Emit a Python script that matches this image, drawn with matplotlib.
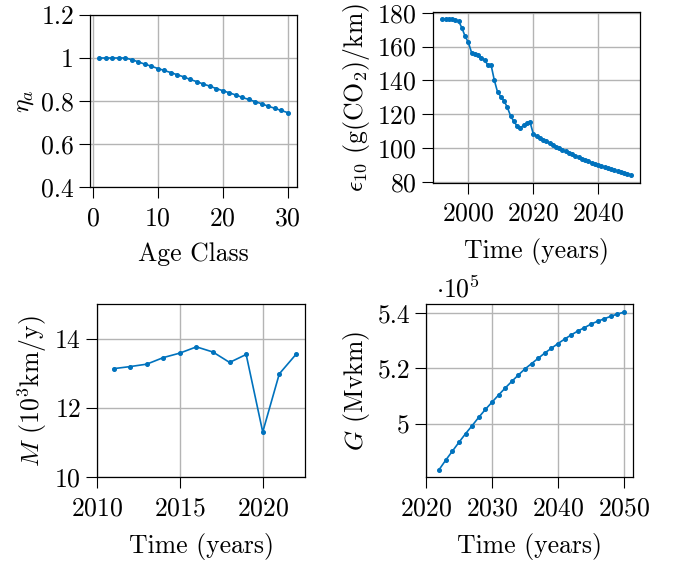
# efficiency, emission factor, mileage and activity panels
import numpy as np
import matplotlib
matplotlib.use("Agg")
from matplotlib import pyplot as plt
from matplotlib.ticker import FuncFormatter

plt.rcParams['font.family'] = 'serif'
plt.rcParams['font.serif'] = ['cmr10']
plt.rcParams['mathtext.fontset'] = 'cm'
plt.rcParams['axes.formatter.use_mathtext'] = True
plt.rcParams['axes.unicode_minus'] = False

# data
age_class = list(range(1, 31))
eta_a = [1.0, 1.0, 1.0, 1.0, 1.0, 0.992, 0.982, 0.971, 0.962, 0.951,
         0.942, 0.932, 0.922, 0.912, 0.900, 0.890, 0.879, 0.869, 0.858, 0.848,
         0.838, 0.828, 0.817, 0.807, 0.797, 0.787, 0.776, 0.766, 0.756, 0.746]

eps_years = list(range(1992, 2051))
eps10 = [176.1, 176.0, 176.0, 176.0, 175.7, 175.0, 171.0, 166.0, 162.4, 156.3,
         155.3, 155.0, 153.3, 152.0, 149.0, 149.0, 140.0, 133.0, 130.4, 127.8,
         124.0, 119.0, 115.7, 113.0, 111.8, 113.3, 114.5, 115.3,
         108.3, 107.1, 106.0, 104.9, 103.8, 102.8, 101.8, 100.8, 99.8, 98.8,
         97.9, 97.0, 96.1, 95.2, 94.4, 93.6, 92.8, 92.0, 91.3, 90.6,
         89.9, 89.2, 88.6, 88.0, 87.4, 86.8, 86.2, 85.7, 85.1, 84.6, 84.1]

m_years = list(range(2011, 2023))
mileage = [13.14, 13.20, 13.27, 13.46, 13.59, 13.77, 13.62, 13.32, 13.55, 11.31, 12.99, 13.55]

g_years = list(range(2022, 2051))
g_vkm = [4.836, 4.870, 4.902, 4.934, 4.965, 4.994, 5.024, 5.052, 5.078, 5.104,
         5.129, 5.153, 5.176, 5.198, 5.217, 5.236, 5.255, 5.272, 5.289, 5.305,
         5.320, 5.334, 5.346, 5.359, 5.369, 5.378, 5.387, 5.395, 5.402]
g_vkm = [v * 1e5 for v in g_vkm]

blue = "#0072BD"
fs = 18.5
fmt = FuncFormatter(lambda v, p: "%g" % v)


def style(ax):
    ax.grid(True, color="#b4b4b4", linewidth=1.0)
    ax.set_axisbelow(True)
    ax.tick_params(direction="out", length=8, width=0.8, labelsize=fs,
                   top=False, right=False)
    ax.tick_params(axis="x", pad=6)
    ax.xaxis.labelpad = 9
    for s in ax.spines.values():
        s.set_linewidth(0.9)


fig = plt.figure(figsize=(6.77, 5.63), dpi=100)

# top left
ax1 = fig.add_axes([0.1329, 0.6679, 0.3058, 0.3055])
ax1.plot(age_class, eta_a, color=blue, marker="o", markersize=2.6, linewidth=1.2)
ax1.set_xlim(-0.45, 31.45)
ax1.set_ylim(0.4, 1.2)
ax1.set_xticks([0, 10, 20, 30])
ax1.set_yticks([0.4, 0.6, 0.8, 1.0, 1.2])
ax1.yaxis.set_major_formatter(fmt)
ax1.set_xlabel("Age Class", fontsize=fs)
ax1.set_ylabel(r"$\eta_a$", fontsize=fs)
style(ax1)

# top right
ax2 = fig.add_axes([0.6396, 0.6755, 0.3058, 0.3037])
ax2.plot(eps_years, eps10, color=blue, marker="o", markersize=2.6, linewidth=1.2)
ax2.set_xlim(1989.1, 2052.9)
ax2.set_ylim(79.4, 180.6)
ax2.set_xticks([2000, 2020, 2040])
ax2.set_yticks([80, 100, 120, 140, 160, 180])
ax2.set_xlabel("Time (years)", fontsize=fs)
ax2.set_ylabel(r"$\epsilon_{10}$ (g(CO$_2$)/km)", fontsize=fs)
style(ax2)

# bottom left
ax3 = fig.add_axes([0.1433, 0.1522, 0.3072, 0.3073])
ax3.plot(m_years, mileage, color=blue, marker="o", markersize=2.6, linewidth=1.2)
ax3.set_xlim(2010, 2022.55)
ax3.set_ylim(10, 15)
ax3.set_xticks([2010, 2015, 2020])
ax3.set_yticks([10, 12, 14])
ax3.set_xlabel("Time (years)", fontsize=fs)
ax3.set_ylabel(r"$M$ ($10^3$km/y)", fontsize=fs)
style(ax3)

# bottom right
ax4 = fig.add_axes([0.6292, 0.1522, 0.3063, 0.3073])
ax4.plot(g_years, g_vkm, color=blue, marker="o", markersize=2.6, linewidth=1.2)
ax4.set_xlim(2020, 2051.4)
ax4.set_ylim(4.808e5, 5.430e5)
ax4.set_xticks([2020, 2030, 2040, 2050])
ax4.set_yticks([5.0e5, 5.2e5, 5.4e5])
ax4.yaxis.set_major_formatter(FuncFormatter(lambda v, p: "%g" % round(v / 1e5, 3)))
ax4.text(0.05, 1.01, r"$\cdot 10^5$", transform=ax4.transAxes, fontsize=fs,
         ha="left", va="bottom")
ax4.set_xlabel("Time (years)", fontsize=fs)
ax4.set_ylabel(r"$G$ (Mvkm)", fontsize=fs)
style(ax4)

plt.savefig("out.png", dpi=100)
